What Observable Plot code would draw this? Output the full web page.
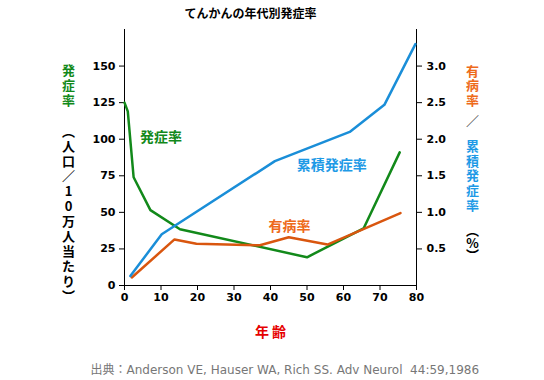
<!DOCTYPE html>
<html>
<head>
<meta charset="utf-8">
<script src="https://cdn.jsdelivr.net/npm/d3@7"></script>
<script src="https://cdn.jsdelivr.net/npm/@observablehq/plot@0.6"></script>
<style>
  html, body { margin: 0; padding: 0; background: #fff; }
  #chart svg { display: block; }
</style>
</head>
<body>
<div id="chart"></div>
<script>
// ---- data ----
const incidenceAges = [0, 0.9, 2.5, 7.1, 15.2, 50, 65.5, 75.4];
const incidenceValues = [125, 119, 74, 51.5, 38.5, 19.3, 39, 91];        // per 100,000 (left axis)
const cumulativeAges = [1.6, 10.2, 41.2, 61.7, 71.2, 79.7];
const cumulativeValues = [0.13, 0.70, 1.70, 2.10, 2.47, 3.30];            // % (right axis)
const prevalenceAges = [2.0, 13.7, 19.7, 37.1, 45.0, 55.6, 75.6];
const prevalenceValues = [0.11, 0.63, 0.57, 0.55, 0.66, 0.56, 0.99];      // % (right axis)
const xTicks = [0, 10, 20, 30, 40, 50, 60, 70, 80];
const leftTicks = [0, 25, 50, 75, 100, 125, 150];
const rightTicks = [0.5, 1.0, 1.5, 2.0, 2.5, 3.0];

const title = "てんかんの年代別発症率";
const xLabel = "年 齢";
const caption = "出典：Anderson VE, Hauser WA, Rich SS. Adv Neurol  44:59,1986";
const seriesLabels = [
  {text: "発症率", x: 10, y: 101.5, key: "inc"},
  {text: "累積発症率", x: 56.8, y: 81.8, key: "cum"},
  {text: "有病率", x: 45.2, y: 40.4, key: "prev"}
];

// ---- styles ----
const green = "#12891a", blue = "#1a8ed8", orange = "#d9560f", orangeText = "#ee6a1a";
const jp = "'Noto Sans CJK JP', sans-serif";
const num = "'DejaVu Sans', sans-serif";
const ratio = 50; // left units per 1% on right axis
const colorOf = {inc: green, cum: "#1e9ae6", prev: orangeText};

const inc = incidenceAges.map((a, i) => ({age: a, v: incidenceValues[i]}));
const cum = cumulativeAges.map((a, i) => ({age: a, v: cumulativeValues[i] * ratio}));
const prev = prevalenceAges.map((a, i) => ({age: a, v: prevalenceValues[i] * ratio}));

const vertical = s => Array.from(s).join("\n");
const vText = (s, anchor, dx, dy, fill, lh, weight = "bold") =>
  Plot.text([vertical(s)], {frameAnchor: anchor, dx, dy, text: d => d, textAnchor: "middle", lineAnchor: "top",
    lineHeight: lh, fontFamily: jp, fontWeight: weight, fontSize: 13, fill});

const plot = Plot.plot({
  width: 544,
  height: 380,
  marginLeft: 124,
  marginRight: 128,
  marginTop: 29,
  marginBottom: 95,
  x: {domain: [0, 80]},
  y: {domain: [0, 175]},
  style: {fontFamily: num, background: "#fff"},
  marks: [
    // frame lines
    Plot.ruleX([0], {y1: 0, y2: 175, stroke: "#000", strokeWidth: 1}),
    Plot.ruleX([80], {y1: 0, y2: 175, stroke: "#000", strokeWidth: 1}),
    Plot.ruleY([0], {x1: -0.8, x2: 80, stroke: "#000", strokeWidth: 1}),
    // axes
    Plot.axisX({ticks: xTicks, tickSize: 5, tickPadding: 3, label: null, fontSize: 11, fontWeight: "bold", fill: "#000", stroke: "#000"}),
    Plot.axisY({ticks: leftTicks, tickSize: 5, tickPadding: 4, label: null, fontSize: 11, fontWeight: "bold", fill: "#000"}),
    Plot.axisY({anchor: "right", ticks: rightTicks.map(t => t * ratio), tickFormat: d => (d / ratio).toFixed(1), tickSize: 5, tickPadding: 5, label: null, fontSize: 11, fontWeight: "bold", fill: "#000"}),
    // series
    Plot.line(inc, {x: "age", y: "v", stroke: green, strokeWidth: 2.5}),
    Plot.line(prev, {x: "age", y: "v", stroke: orange, strokeWidth: 2.5}),
    Plot.line(cum, {x: "age", y: "v", stroke: blue, strokeWidth: 2.5}),
    // in-plot labels
    Plot.text(seriesLabels, {x: "x", y: "y", text: "text", fill: d => colorOf[d.key], fontFamily: jp, fontWeight: "bold", fontSize: 14}),
    // title
    Plot.text([title], {frameAnchor: "top-left", dx: 126, dy: -20, text: d => d, textAnchor: "middle", lineAnchor: "top", fontFamily: jp, fontWeight: "bold", fontSize: 12, fill: "#000"}),
    // x label
    Plot.text([xLabel], {frameAnchor: "bottom-left", dx: 146, dy: 51, text: d => d, textAnchor: "middle", lineAnchor: "bottom", fontFamily: jp, fontWeight: "bold", fontSize: 14, fill: "#e60000"}),
    // caption
    Plot.text([caption], {frameAnchor: "bottom-left", dx: -34, dy: 88, text: d => d, textAnchor: "start", lineAnchor: "bottom", fontFamily: "'DejaVu Sans', 'Noto Sans CJK JP', sans-serif", fontSize: 12, fill: "#777"}),
    // left axis title
    vText("発症率", "top-left", -56, 35, green, 1.15),
    vText("︵人口／10万人当たり︶", "top-left", -56, 96, "#000", 1.15),
    // right axis title
    vText("有病率", "top-right", 56, 36, orangeText, 1.12),
    vText("／", "top-right", 56, 87, "#444", 1.0, "normal"),
    vText("累積発症率", "top-right", 56, 111, "#1e9ae6", 1.13),
    vText("︵%︶", "top-right", 56, 197, "#000", 0.95)
  ]
});
document.getElementById("chart").appendChild(plot);
</script>
</body>
</html>
